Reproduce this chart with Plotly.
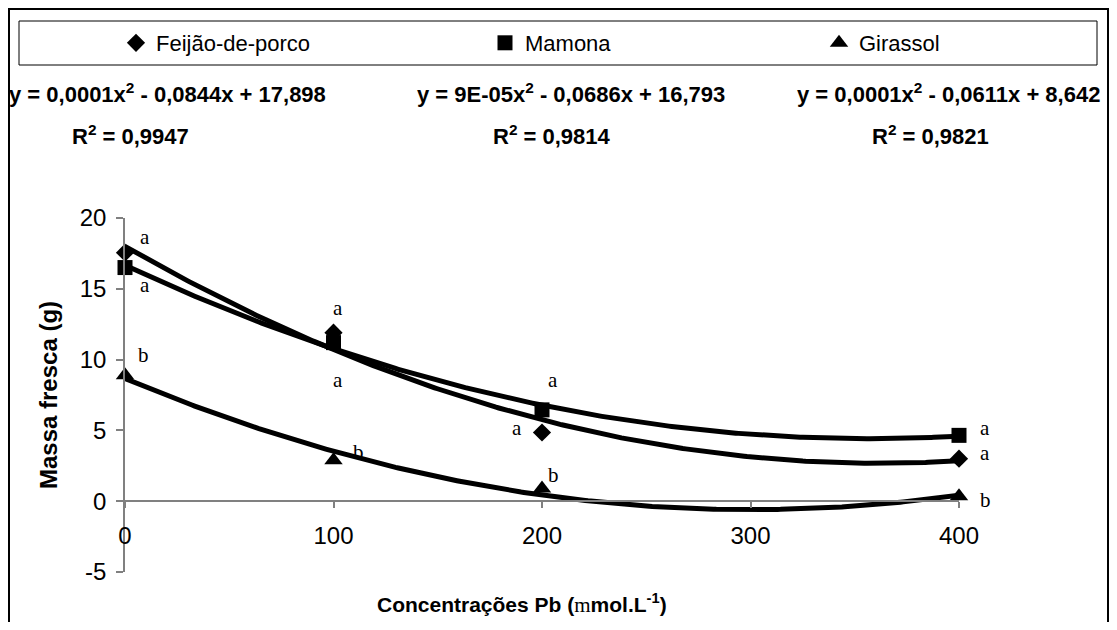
import numpy as np
import plotly.graph_objects as go

# ---------------- data ----------------
conc = [0, 100, 200, 400]
feijao = [17.55, 11.9, 4.85, 3.0]
mamona = [16.5, 11.2, 6.45, 4.65]
girassol = [8.9, 2.9, 0.9, 0.35]
series_names = ["Feijão-de-porco", "Mamona", "Girassol"]

letters_feijao = ["a", "a", "a", "a"]
letters_mamona = ["a", "a", "a", "a"]
letters_girassol = ["b", "b", "b", "b"]

equations = [
    "y = 0,0001x<sup>2</sup> - 0,0844x + 17,898",
    "y = 9E-05x<sup>2</sup> - 0,0686x + 16,793",
    "y = 0,0001x<sup>2</sup> - 0,0611x + 8,642",
]
r_squared = ["R<sup>2</sup> = 0,9947", "R<sup>2</sup> = 0,9814", "R<sup>2</sup> = 0,9821"]

x_ticks = [0, 100, 200, 300, 400]
y_ticks = [-5, 0, 5, 10, 15, 20]
x_range = [0, 400]
y_range = [-5, 20]

# ---------------- layout geometry ----------------
# screen pixel targets; the page body has an 8px margin
OFF = 8
W, H = 1117 - 2 * OFF, 630 - 2 * OFF
SL, SR, ST, SB = 125, 959, 218, 572          # plot area in screen pixels
L, R, T, B = SL - OFF, SR - OFF, ST - OFF, SB - OFF


def px(x):
    """screen x pixel -> paper fraction"""
    return (x - SL) / (SR - SL)


def py(y):
    """screen y pixel -> paper fraction"""
    return (SB - y) / (SB - ST)


SANS = "Liberation Sans, Arial, sans-serif"
SERIF = "Liberation Serif, Times New Roman, serif"

symbols = ["diamond", "square", "triangle-up"]
msizes = [14, 15, 16]
all_series = [feijao, mamona, girassol]
all_letters = [letters_feijao, letters_mamona, letters_girassol]
legend_ids = ["legend", "legend2", "legend3"]
legend_left = [116, 485, 819]
# pixel offsets of the significance letters from each point
letter_shifts = [
    [(20, 16), (4, 25), (-25, 5), (26, 6)],
    [(20, -17), (4, -37), (11, 30), (26, 7)],
    [(18, 20), (25, 8), (11, 13), (26, -4)],
]

fig = go.Figure()

# quadratic trendlines (fitted to the data like Excel does)
xs = np.linspace(x_range[0], conc[-1], 300)
for vals in all_series:
    coef = np.polyfit(conc, vals, 2)
    fig.add_trace(go.Scatter(
        x=xs, y=np.polyval(coef, xs), mode="lines",
        line=dict(color="black", width=5), showlegend=False,
        hoverinfo="skip", cliponaxis=False,
    ))

for name, vals, sym, ms, lg in zip(series_names, all_series, symbols, msizes, legend_ids):
    fig.add_trace(go.Scatter(
        x=conc, y=vals, mode="markers", name=name, legend=lg,
        marker=dict(symbol=sym, size=ms, color="black"),
        cliponaxis=False,
    ))

annotations = []
for vals, letters, shifts in zip(all_series, all_letters, letter_shifts):
    for xv, yv, let, (dx, dy) in zip(conc, vals, letters, shifts):
        annotations.append(dict(
            x=xv, y=yv, xref="x", yref="y", text=let, showarrow=False,
            xshift=dx, yshift=dy, font=dict(family=SERIF, size=21, color="black"),
        ))

eq_x = [167, 571, 948]
r2_x = [130, 552, 930]
for ex, rx, eq, r2 in zip(eq_x, r2_x, equations, r_squared):
    annotations.append(dict(
        x=px(ex), y=py(93), xref="paper", yref="paper", text="<b>" + eq + "</b>",
        showarrow=False, xanchor="center", yanchor="middle",
        font=dict(family=SANS, size=22, color="black"),
    ))
    annotations.append(dict(
        x=px(rx), y=py(135), xref="paper", yref="paper", text="<b>" + r2 + "</b>",
        showarrow=False, xanchor="center", yanchor="middle",
        font=dict(family=SANS, size=22, color="black"),
    ))

# x-axis title
annotations.append(dict(
    x=px(522), y=py(603), xref="paper", yref="paper", showarrow=False,
    xanchor="center", yanchor="middle",
    text="<b>Concentrações Pb (</b><span style='font-family:Liberation Serif;font-weight:normal'>m</span><b>mol.L<sup>-1</sup>)</b>",
    font=dict(family=SANS, size=21, color="black"),
))

shapes = [
    # outer chart frame
    dict(type="rect", xref="paper", yref="paper",
         x0=px(9), x1=px(1108), y0=py(650), y1=py(9),
         line=dict(color="black", width=2), fillcolor="rgba(0,0,0,0)", layer="below"),
    # legend frame
    dict(type="rect", xref="paper", yref="paper",
         x0=px(19), x1=px(1097), y0=py(65), y1=py(21),
         line=dict(color="black", width=1), fillcolor="rgba(0,0,0,0)", layer="below"),
]

axis_pos = (0 - y_range[0]) / (y_range[1] - y_range[0])

legend_common = dict(
    orientation="h", xanchor="left", y=py(43), yanchor="middle",
    font=dict(family=SANS, size=22, color="black"),
    bgcolor="rgba(0,0,0,0)", borderwidth=0,
)

fig.update_layout(
    width=W, height=H,
    margin=dict(l=L, r=W - R, t=T, b=H - B, autoexpand=False),
    paper_bgcolor="white", plot_bgcolor="white",
    font=dict(family=SANS, color="black"),
    showlegend=True,
    legend=dict(x=px(legend_left[0]), **legend_common),
    legend2=dict(x=px(legend_left[1]), **legend_common),
    legend3=dict(x=px(legend_left[2]), **legend_common),
    xaxis=dict(
        range=x_range, tickvals=x_ticks, ticktext=[str(v) for v in x_ticks],
        showline=True, linecolor="#808080", linewidth=1.5,
        ticks="outside", ticklen=6, tickwidth=1.5, tickcolor="#808080",
        anchor="free", position=axis_pos,
        showgrid=False, zeroline=False, ticklabelstandoff=7,
        tickfont=dict(family=SANS, size=24, color="black"),
    ),
    yaxis=dict(
        range=y_range, tickvals=y_ticks, ticktext=[str(v) for v in y_ticks],
        showline=True, linecolor="#808080", linewidth=1.5,
        ticks="outside", ticklen=7, tickwidth=1.5, tickcolor="#808080",
        showgrid=False, zeroline=False, ticklabelstandoff=5,
        tickfont=dict(family=SANS, size=24, color="black"),
        title=dict(text="<b>Massa fresca (g)</b>",
                   font=dict(family=SANS, size=24, color="black"), standoff=15),
    ),
    annotations=annotations,
    shapes=shapes,
)

fig.write_html("out.html")
